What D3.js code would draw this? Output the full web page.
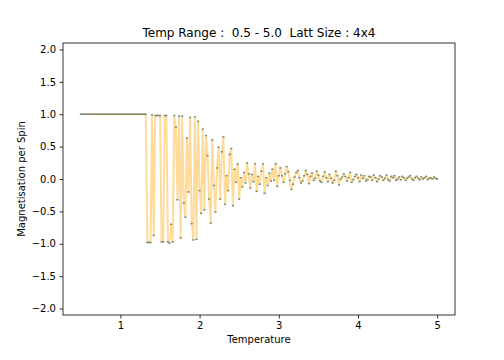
<!DOCTYPE html>
<html>
<head>
<meta charset="utf-8">
<script src="https://cdn.jsdelivr.net/npm/d3@7"></script>
<style>
  html, body { margin: 0; padding: 0; background: #fff; }
  svg { display: block; }
  text { font-family: "DejaVu Sans", sans-serif; fill: #000; }
</style>
</head>
<body>
<svg id="chart" width="504" height="360"></svg>
<script>
// ---- data ----
const tStart = 0.5;
const tStep = 0.02;
const magnetisation = [
  1,1,1,1,1,1,1,1,1,1, 1,1,1,1,1,1,1,1,1,1, 1,1,1,1,1,1,1,1,1,1, 1,1,1,1,1,1,1,1,1,1, 1,1,
  -0.98,-0.98,-0.98,0.99,-0.87,0.98,0.98,0.98,0.98,-0.97,
  -0.97,0.98,0.98,-0.97,-0.99,-0.70,-0.97,0.98,0.80,-0.32,
  0.97,-0.91,0.97,-0.37,-0.59,0.63,-0.20,0.95,-0.69,-0.94,
  0.96,-0.93,0.89,-0.18,-0.53,0.77,-0.475,0.67,0.36,-0.31,
  -0.68,0.60,-0.10,-0.51,0.17,0.49,-0.31,0.42,0.65,-0.39,
  0.05,-0.18,0.38,0.47,-0.41,0.15,-0.05,0.23,-0.31,0.02,
  -0.12,0.10,-0.06,0.245,0.08,-0.14,0.07,-0.04,0.235,-0.19,
  0.04,-0.08,0.12,0.235,-0.22,0.02,-0.10,0.09,-0.03,0.15,
  -0.02,0.235,-0.115,0.05,
  0.17,0.05,-0.05,0.08,0.19,0.11,-0.02,-0.16,-0.08,0.03,
  0.10,0.13,0.02,-0.06,-0.03,0.05,0.13,0.07,-0.07,0.04,
  0.09,-0.02,0.01,0.12,0.06,
  -0.03,-0.05,0.04,0.11,0.02,-0.04,0.07,0.01,-0.06,-0.02,
  0.12,0.05,-0.09,0.00,0.03,0.08,0.04,-0.03,0.02,0.10,
  -0.05,-0.01,0.04,0.07,0.02,
  -0.04,0.06,0.01,0.05,-0.03,-0.01,0.04,0.03,-0.02,0.06,
  0.02,-0.04,0.00,0.05,0.03,-0.02,0.01,0.06,-0.01,-0.03,
  0.04,0.02,0.05,-0.02,0.00,0.03,-0.01,0.04,0.02,-0.02,
  0.01,0.03,0.05,0.00,-0.02,0.02,0.04,0.01,-0.01,0.03,
  0.00,0.02,0.04,-0.01,0.01,0.02,0.00,0.03,0.01,0.00
];
const temperature = magnetisation.map((_, i) => +(tStart + i * tStep).toFixed(2));
const xTicks = [1, 2, 3, 4, 5];
const yTicks = [-2.0, -1.5, -1.0, -0.5, 0.0, 0.5, 1.0, 1.5, 2.0];
const titleText = "Temp Range :  0.5 - 5.0  Latt Size : 4x4";
const xLabel = "Temperature";
const yLabel = "Magnetisation per Spin";

// ---- layout ----
const L = 63, R = 455, T = 43, B = 315;
const svg = d3.select("#chart");

const x = d3.scaleLinear().domain([0.275, 5.225]).range([L, R]);
const y = d3.scaleLinear().domain([-2.1, 2.1]).range([B, T]);

const fmtY = d => d3.format(".1f")(d).replace("-", "\u2212");

// markers (under the translucent line)
svg.append("g").selectAll("rect")
  .data(magnetisation)
  .join("rect")
  .attr("x", (d, i) => x(temperature[i]) - 1)
  .attr("y", d => y(d) - 0.7)
  .attr("width", 2)
  .attr("height", 1.4)
  .attr("fill", "#1f77b4");

// line
svg.append("path")
  .datum(magnetisation)
  .attr("fill", "none")
  .attr("stroke", "orange")
  .attr("stroke-opacity", 0.4)
  .attr("stroke-width", 2)
  .attr("stroke-linejoin", "round")
  .attr("d", d3.line().x((d, i) => x(temperature[i])).y(d => y(d)));

// axes
const xAxis = svg.append("g")
  .attr("transform", `translate(0,${B})`)
  .call(d3.axisBottom(x).tickValues(xTicks).tickFormat(d3.format("d")).tickSizeInner(3.5).tickSizeOuter(0).tickPadding(3.5));
const yAxis = svg.append("g")
  .attr("transform", `translate(${L},0)`)
  .call(d3.axisLeft(y).tickValues(yTicks).tickFormat(fmtY).tickSizeInner(3.5).tickSizeOuter(0).tickPadding(3.5));

[xAxis, yAxis].forEach(g => {
  g.select(".domain").remove();
  g.selectAll(".tick line").attr("stroke", "#000").attr("stroke-width", 0.8);
  g.selectAll(".tick text").attr("font-size", 10).attr("font-family", "DejaVu Sans").attr("fill", "#000");
});

// frame
svg.append("rect")
  .attr("x", L).attr("y", T)
  .attr("width", R - L).attr("height", B - T)
  .attr("fill", "none")
  .attr("stroke", "#000")
  .attr("stroke-width", 0.8);

// title and labels
svg.append("text")
  .attr("x", (L + R) / 2).attr("y", 37)
  .attr("text-anchor", "middle")
  .attr("font-size", 12)
  .style("white-space", "pre")
  .attr("xml:space", "preserve")
  .text(titleText);

svg.append("text")
  .attr("x", (L + R) / 2).attr("y", 343)
  .attr("text-anchor", "middle")
  .attr("font-size", 10)
  .text(xLabel);

svg.append("text")
  .attr("transform", `translate(25,${(T + B) / 2}) rotate(-90)`)
  .attr("text-anchor", "middle")
  .attr("font-size", 10)
  .text(yLabel);
</script>
</body>
</html>
